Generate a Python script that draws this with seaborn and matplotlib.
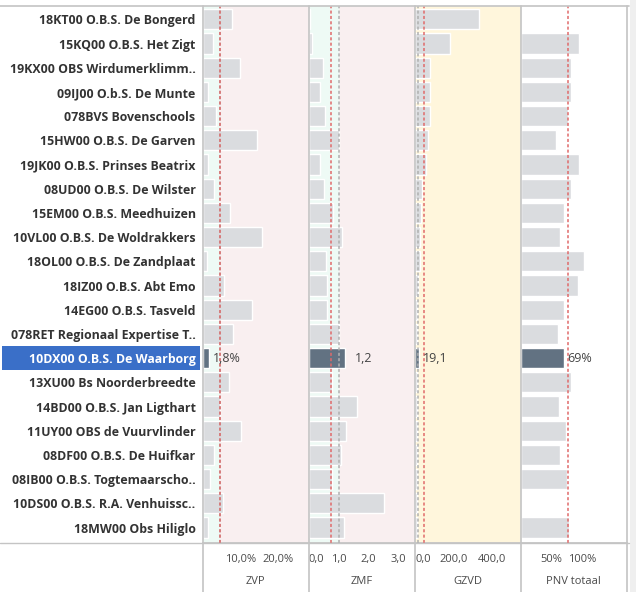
import matplotlib
matplotlib.use("Agg")
import matplotlib.pyplot as plt
import seaborn as sns
import pandas as pd
from matplotlib.lines import Line2D
from matplotlib.patches import Rectangle
import matplotlib.transforms as mtransforms

schools = [
    "18KT00 O.B.S. De Bongerd",
    "15KQ00 O.B.S. Het Zigt",
    "19KX00 OBS Wirdumerklimm..",
    "09IJ00 O.b.S. De Munte",
    "078BVS Bovenschools",
    "15HW00 O.B.S. De Garven",
    "19JK00 O.B.S. Prinses Beatrix",
    "08UD00 O.B.S. De Wilster",
    "15EM00 O.B.S. Meedhuizen",
    "10VL00 O.B.S. De Woldrakkers",
    "18OL00 O.B.S. De Zandplaat",
    "18IZ00 O.B.S. Abt Emo",
    "14EG00 O.B.S. Tasveld",
    "078RET Regionaal Expertise T..",
    "10DX00 O.B.S. De Waarborg",
    "13XU00 Bs Noorderbreedte",
    "14BD00 O.B.S. Jan Ligthart",
    "11UY00 OBS de Vuurvlinder",
    "08DF00 O.B.S. De Huifkar",
    "08IB00 O.B.S. Togtemaarscho..",
    "10DS00 O.B.S. R.A. Venhuissc..",
    "18MW00 Obs Hiliglo",
]
highlight = "10DX00 O.B.S. De Waarborg"

zvp = [7.7, 2.7, 9.8, 1.4, 3.6, 14.5, 1.4, 3.0, 7.3, 15.7, 1.1,
       5.7, 13.2, 8.0, 1.8, 7.1, 4.6, 10.1, 3.1, 2.1, 5.5, 1.4]
zmf = [0.04, 0.12, 0.47, 0.39, 0.54, 1.01, 0.39, 0.50, 0.80, 1.13, 0.59,
       0.63, 0.63, 1.01, 1.2, 0.79, 1.63, 1.24, 1.09, 0.79, 2.53, 1.17]
gzvd = [334, 184, 76, 76, 76, 67, 55, 36, 31, 25, 25,
        14, 12, 12, 19.1, 12, 12, 12, 12, 12, 10, 12]
pnv = [1.5, 94, 81, 81, 77, 58, 94, 81, 70, 64, 102,
       92, 70, 60.5, 69.4, 81, 62.6, 73, 64, 75.5, 1.2, 78]

metrics = ["ZVP", "ZMF", "GZVD", "PNV totaal"]
red_refs = [4.7, 0.76, 45, 76]
grey_refs = [4.7, 1.0, 14, None]
xmax = [28, 3.55, 548, 171.8]
tick_vals = [[10, 20], [0, 1, 2, 3], [0, 200, 400], [50, 100, 150]]
tick_labels = [["10,0%", "20,0%"], ["0,0", "1,0", "2,0", "3,0"],
               ["0,0", "200,0", "400,0"], ["50%", "100%", ""]]

df = pd.DataFrame({"school": schools, "ZVP": zvp, "ZMF": zmf,
                   "GZVD": gzvd, "PNV totaal": pnv})

sns.set_theme(style="white")
plt.rcParams["font.family"] = ["Open Sans", "DejaVu Sans"]

W, H = 636, 592
fig = plt.figure(figsize=(W / 100, H / 100), dpi=100)
fig.patch.set_facecolor("white")

GREEN = "#eefaf5"
PINK = "#f9eff0"
YELLOW = "#fff6dc"
BAR = "#dadcdf"
DARK = "#627282"
REDL = "#e06a6a"
GREYL = "#b0b0b0"
BORDER = "#c4c4c4"

edges = [202.5, 308.5, 415, 520.5, 627]
top_px, bot_px = 6, 543

palette = {s: (DARK if s == highlight else BAR) for s in schools}
hi_idx = schools.index(highlight)

axes = []
for i, m in enumerate(metrics):
    left = edges[i] / W
    width = (edges[i + 1] - edges[i]) / W
    ax = fig.add_axes([left, 1 - bot_px / H, width, (bot_px - top_px) / H])
    axes.append(ax)
    # backgrounds
    if i in (0, 1):
        ax.axvspan(0, grey_refs[i], color=GREEN, zorder=0, lw=0)
        ax.axvspan(grey_refs[i], xmax[i], color=PINK, zorder=0, lw=0)
    elif i == 2:
        ax.axvspan(0, xmax[i], color=YELLOW, zorder=0, lw=0)
    else:
        ax.set_facecolor("white")
    sns.barplot(data=df, x=m, y="school", hue="school", palette=palette,
                legend=False, ax=ax, width=0.83, saturation=1, zorder=2)
    ax.set_xlim(0, xmax[i])
    ax.set_ylim(21.64, -0.55)
    if grey_refs[i] is not None:
        ax.axvline(grey_refs[i], color=GREYL, ls=(0, (2, 1.5)), lw=1.1, zorder=3)
    ax.axvline(red_refs[i], color=REDL, ls=(0, (2, 1.5)), lw=1.1, zorder=4)
    ax.set_xticks(tick_vals[i])
    ax.set_xticklabels(tick_labels[i])
    ax.tick_params(axis="x", length=4, width=0.8, color=BORDER, pad=4,
                   labelsize=8, labelcolor="#4a4a4a")
    if tick_labels[i][0] == "0,0":
        lbl = ax.get_xticklabels()[0]
        lbl.set_horizontalalignment("left")
        ax.get_xaxis().get_major_ticks()[0].tick1line.set_visible(False)
    ax.set_xlabel(m, fontsize=8, color="#4a4a4a", labelpad=8)
    ax.set_ylabel("")
    for s in ax.spines.values():
        s.set_visible(False)
    ax.spines["bottom"].set_visible(True)
    ax.spines["bottom"].set_color(BORDER)
    if i == 0:
        ax.tick_params(axis="y", length=0, pad=5, labelsize=8.9,
                       labelcolor="#333333")
        for t in ax.get_yticklabels():
            t.set_fontweight("bold")
            if t.get_text() == highlight:
                t.set_color("white")
    else:
        ax.set_yticks([])

    # value label for highlighted row
    v = df.loc[hi_idx, m]
    if m == "ZVP":
        txt = f"{v:.1f}%".replace(".", ",")
        off = 4
    elif m == "ZMF":
        txt = f"{v:.1f}".replace(".", ",")
        off = 10
    elif m == "GZVD":
        txt = f"{v:.1f}".replace(".", ",")
        off = 4
    else:
        txt = f"{v:.0f}%"
        off = 4
    ax.annotate(txt, xy=(v, hi_idx), xytext=(off * 0.72, 0),
                textcoords="offset points", va="center", ha="left",
                fontsize=9, color="#444444", zorder=6)

# highlight box behind selected label
trans = mtransforms.blended_transform_factory(fig.transFigure, axes[0].transData)
axes[0].add_patch(Rectangle((2 / W, hi_idx - 0.5), (200 - 2) / W, 1.0,
                            transform=trans, facecolor="#3a6fc8",
                            edgecolor="none", zorder=0, clip_on=False))

# frame lines
fig.add_artist(Line2D([0, 629 / W], [1 - top_px / H] * 2, color=BORDER, lw=1.2))
fig.add_artist(Line2D([0, 629 / W], [1 - bot_px / H] * 2, color=BORDER, lw=1.0))
for e in edges:
    fig.add_artist(Line2D([e / W] * 2, [0, 1 - top_px / H], color=BORDER, lw=1.2))
# scrollbar strip on the right
fig.patches.append(Rectangle((630 / W, 0), 6 / W, 1, transform=fig.transFigure,
                             facecolor="#efefef", edgecolor="none"))

fig.savefig("out.png", dpi=100)
